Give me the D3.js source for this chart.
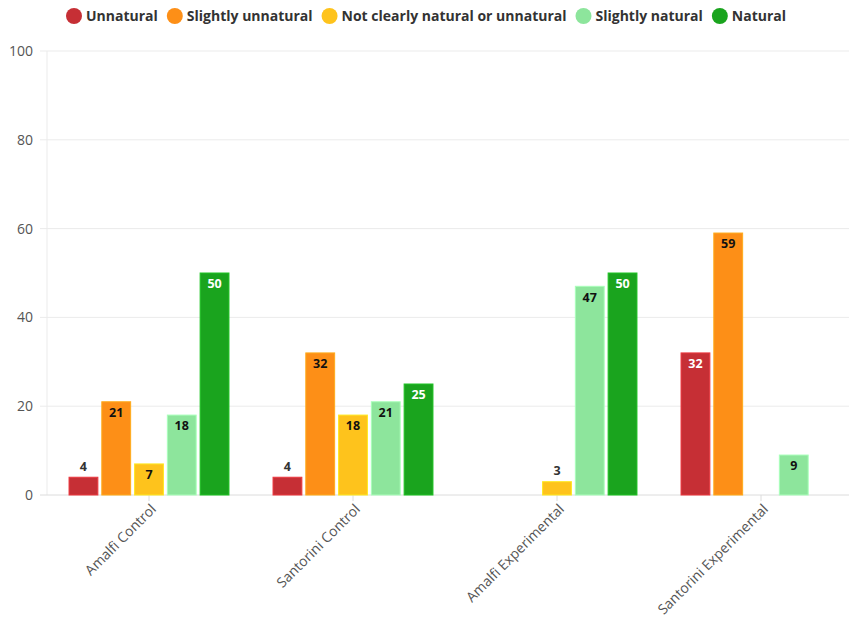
<!DOCTYPE html>
<html>
<head>
<meta charset="utf-8">
<script src="https://cdn.jsdelivr.net/npm/d3@7"></script>
<style>
  html, body { margin: 0; padding: 0; background: #fff; }
  svg { display: block; font-family: "Open Sans", Lato, "Noto Sans", sans-serif; }
</style>
</head>
<body>
<svg id="chart" width="849" height="619"></svg>
<script>
const categories = ["Amalfi Control", "Santorini Control", "Amalfi Experimental", "Santorini Experimental"];
const seriesNames = ["Unnatural", "Slightly unnatural", "Not clearly natural or unnatural", "Slightly natural", "Natural"];
const seriesColors = ["#c62f35", "#fd8f17", "#fec31c", "#8de59c", "#1aa41e"];
const labelColors = ["#ffffff", "#111111", "#111111", "#111111", "#ffffff"];
const unnatural = [4, 4, 0, 32];
const slightlyUnnatural = [21, 32, 0, 59];
const notClearly = [7, 18, 3, 0];
const slightlyNatural = [18, 21, 47, 9];
const natural = [50, 25, 50, 0];
const yTicks = [0, 20, 40, 60, 80, 100];

const seriesValues = [unnatural, slightlyUnnatural, notClearly, slightlyNatural, natural];

(function () {
const svg = d3.select("#chart");
const mLeft = 47, mRight = 863, mTop = 51, mBottom = 495;

const x0 = d3.scaleBand().domain(categories).range([mLeft, mRight]).paddingInner(0.216).paddingOuter(0.108);
const x1 = d3.scaleBand().domain(seriesNames).range([0, x0.bandwidth()]).paddingInner(0.12).paddingOuter(0);
const y = d3.scaleLinear().domain([0, 100]).range([mBottom, mTop]);

// gridlines
svg.append("g").selectAll("line").data(yTicks.filter(d => d > 0)).join("line")
  .attr("x1", 40).attr("x2", 849)
  .attr("y1", d => y(d)).attr("y2", d => y(d))
  .attr("stroke", "#ebebeb").attr("stroke-width", 1);

// y axis line
svg.append("line").attr("x1", mLeft).attr("x2", mLeft).attr("y1", mTop).attr("y2", mBottom)
  .attr("stroke", "#ebebeb");

// y tick labels
svg.append("g").selectAll("text").data(yTicks).join("text")
  .attr("x", 33).attr("y", d => y(d)).attr("dy", "0.35em")
  .attr("text-anchor", "end").attr("fill", "#555").attr("font-size", 14)
  .text(d => d);

// baseline
svg.append("line").attr("x1", 40).attr("x2", 849).attr("y1", mBottom).attr("y2", mBottom)
  .attr("stroke", "#dcdcdc");

// x ticks
svg.append("g").selectAll("line").data(categories).join("line")
  .attr("x1", d => x0(d) + x0.bandwidth() / 2).attr("x2", d => x0(d) + x0.bandwidth() / 2)
  .attr("y1", mBottom).attr("y2", mBottom + 6)
  .attr("stroke", "#dcdcdc");

// x labels
svg.append("g").selectAll("text").data(categories).join("text")
  .attr("transform", d => `translate(${x0(d) + x0.bandwidth() / 2 + 8},${mBottom + 15}) rotate(-45)`)
  .attr("text-anchor", "end").attr("fill", "#555").attr("font-size", 14)
  .text(d => d);

// bars
const groups = svg.append("g").selectAll("g").data(categories).join("g")
  .attr("transform", d => `translate(${x0(d)},0)`);

groups.each(function(cat, ci) {
  const g = d3.select(this);
  seriesNames.forEach((s, si) => {
    const v = seriesValues[si][ci];
    if (!v) return;
    const bx = x1(s), bw = x1.bandwidth();
    g.append("rect")
      .attr("x", bx).attr("y", y(v)).attr("width", bw).attr("height", y(0) - y(v))
      .attr("fill", seriesColors[si])
      .attr("stroke", d3.color(seriesColors[si]).brighter(0.5)).attr("stroke-width", 1);
    const h = y(0) - y(v);
    const inside = h > 25;
    g.append("text")
      .attr("x", bx + bw / 2)
      .attr("y", inside ? y(v) + 11 : y(v) - 11)
      .attr("dy", "0.35em")
      .attr("text-anchor", "middle").attr("font-size", 12.5).attr("font-weight", 700)
      .attr("fill", inside ? labelColors[si] : "#333")
      .text(v);
  });
});

// legend
const legend = svg.append("g");
let lx = 66;
seriesNames.forEach((s, i) => {
  legend.append("circle").attr("cx", lx + 8).attr("cy", 16).attr("r", 8).attr("fill", seriesColors[i]);
  const t = legend.append("text").attr("x", lx + 20).attr("y", 16).attr("dy", "0.35em")
    .attr("font-size", 14).attr("font-weight", 700).attr("fill", "#333").text(s);
  lx += 20 + t.node().getComputedTextLength() + 9;
});
})();
</script>
</body>
</html>
